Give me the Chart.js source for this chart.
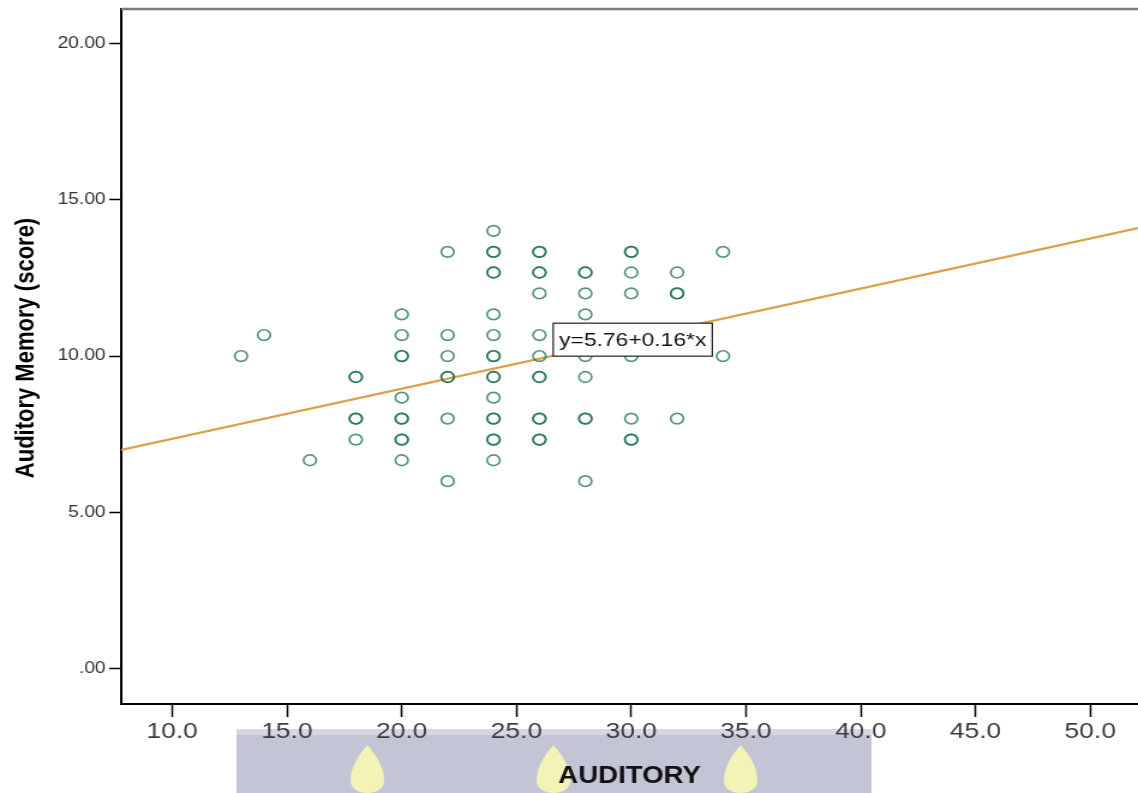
<!DOCTYPE html>
<html>
<head>
<meta charset="utf-8">
<script src="https://cdn.jsdelivr.net/npm/chart.js@4.4.1/dist/chart.umd.min.js"></script>
<style>
  html, body { margin: 0; padding: 0; background: #fff; overflow: hidden; }
  #wrap { width: 1138px; height: 793px; position: relative; overflow: hidden; }
  /* the source picture is stretched sideways, so draw narrow and widen */
  #chart { transform: scaleX(1.2004); transform-origin: 0 0; }
</style>
</head>
<body>
<div id="wrap"><canvas id="chart" width="948" height="793"></canvas></div>
<script>
// one entry per respondent, repeated values are plotted twice (darker rings)
const auditory = [
  13, 14, 16,
  18, 18, 18, 18, 18,
  20, 20, 20, 20, 20, 20, 20, 20, 20, 20,
  22, 22, 22, 22, 22, 22, 22,
  24, 24, 24, 24, 24, 24, 24, 24, 24, 24, 24, 24, 24, 24, 24, 24, 24,
  26, 26, 26, 26, 26, 26, 26, 26, 26, 26, 26, 26, 26,
  28, 28, 28, 28, 28, 28, 28, 28, 28,
  30, 30, 30, 30, 30, 30, 30, 30,
  32, 32, 32, 32,
  34, 34,
];
const memory = [
  10.00, 10.67, 6.67,
  9.33, 9.33, 8.00, 8.00, 7.33,
  11.33, 10.67, 10.00, 10.00, 8.67, 8.00, 8.00, 7.33, 7.33, 6.67,
  13.33, 10.67, 10.00, 9.33, 9.33, 8.00, 6.00,
  14.00, 13.33, 13.33, 12.67, 12.67, 11.33, 10.67, 10.00, 10.00, 9.33, 9.33, 8.67, 8.00, 8.00, 7.33, 7.33, 6.67,
  13.33, 13.33, 12.67, 12.67, 12.00, 10.67, 10.00, 9.33, 9.33, 8.00, 8.00, 7.33, 7.33,
  12.67, 12.67, 12.00, 11.33, 10.00, 9.33, 8.00, 8.00, 6.00,
  13.33, 13.33, 12.67, 12.00, 10.00, 8.00, 7.33, 7.33,
  12.67, 12.00, 12.00, 8.00,
  13.33, 10.00,
];

// fit line y = 5.76 + 0.16*x, ends read at the plot edges
const fitX = [7.78, 52.08];
const fitY = [7.0, 14.09];
const fitLabel = "y=5.76+0.16*x";

const xTicks = [10, 15, 20, 25, 30, 35, 40, 45, 50];
const xTickLabels = ["10.0", "15.0", "20.0", "25.0", "30.0", "35.0", "40.0", "45.0", "50.0"];
const yTicks = [0, 5, 10, 15, 20];
const yTickLabels = [".00", "5.00", "10.00", "15.00", "20.00"];

const FONT = "'Liberation Sans', Arial, sans-serif";

const watermark = {
  id: "watermark",
  beforeDraw(chart) {
    const { ctx } = chart;
    ctx.save();
    ctx.fillStyle = "#c4c4d7";
    ctx.fillRect(197, 729, 529, 64);
    ctx.fillStyle = "#d6d6e4";
    ctx.fillRect(197, 729, 529, 6);
    ctx.fillStyle = "#f3f3b6";
    [306, 461, 617].forEach((cx) => {
      ctx.beginPath();
      ctx.moveTo(cx, 745);
      ctx.bezierCurveTo(cx + 7, 755, cx + 14, 766, cx + 14, 781);
      ctx.bezierCurveTo(cx + 14, 797, cx - 14, 797, cx - 14, 781);
      ctx.bezierCurveTo(cx - 14, 766, cx - 7, 755, cx, 745);
      ctx.fill();
    });
    ctx.restore();
  },
};

const frame = {
  id: "frame",
  afterDraw(chart) {
    const { ctx, chartArea } = chart;
    ctx.save();
    ctx.strokeStyle = "#7a7a7a";
    ctx.lineWidth = 2.5;
    ctx.beginPath();
    ctx.moveTo(chartArea.left, chartArea.top);
    ctx.lineTo(chartArea.right, chartArea.top);
    ctx.stroke();

    // y axis title
    ctx.fillStyle = "#000";
    ctx.font = `bold 22px ${FONT}`;
    ctx.textAlign = "center";
    ctx.textBaseline = "middle";
    ctx.translate(21.5, 348);
    ctx.rotate(-Math.PI / 2);
    ctx.fillText("Auditory Memory (score)", 0, 0);
    ctx.restore();
  },
};

const equationBox = {
  id: "equationBox",
  afterDatasetsDraw(chart) {
    const { ctx, scales } = chart;
    const left = scales.x.getPixelForValue(26.6);
    const top = scales.y.getPixelForValue(11.05);
    ctx.save();
    ctx.font = `19px ${FONT}`;
    const w = ctx.measureText(fitLabel).width + 10;
    const h = 33;
    ctx.fillStyle = "#fff";
    ctx.fillRect(left, top, w, h);
    ctx.strokeStyle = "#222";
    ctx.lineWidth = 1.2;
    ctx.strokeRect(left, top, w, h);
    ctx.fillStyle = "#111";
    ctx.textBaseline = "middle";
    ctx.fillText(fitLabel, left + 5, top + h / 2 + 1);
    ctx.restore();
  },
};

new Chart(document.querySelector("#chart"), {
  type: "scatter",
  data: {
    datasets: [
      {
        type: "line",
        data: fitX.map((x, i) => ({ x, y: fitY[i] })),
        borderColor: "#de9f45",
        borderWidth: 2.3,
        pointRadius: 0,
        fill: false,
        order: 2,
      },
      {
        data: auditory.map((x, i) => ({ x, y: memory[i] })),
        pointRadius: 5.3,
        pointBorderWidth: 1.7,
        borderColor: "rgba(30, 112, 80, 0.75)",
        backgroundColor: "rgba(0, 0, 0, 0)",
        order: 1,
      },
    ],
  },
  options: {
    responsive: false,
    animation: false,
    layout: { autoPadding: false, padding: { top: 9, right: 0, left: 0, bottom: 0 } },
    plugins: { legend: { display: false }, tooltip: { enabled: false } },
    scales: {
      x: {
        type: "linear",
        min: 7.78,
        max: 52.08,
        afterBuildTicks: (scale) => { scale.ticks = xTicks.map((value) => ({ value })); },
        afterFit: (scale) => {
          scale.height = 89;
          scale.paddingLeft = 0;
          scale.paddingRight = 0;
        },
        ticks: {
          callback: (value, index) => xTickLabels[index],
          font: { family: FONT, size: 22 },
          color: "#3c3c3c",
          padding: 2,
          maxRotation: 0,
          autoSkip: false,
        },
        grid: { drawOnChartArea: false, drawTicks: true, tickLength: 13, tickColor: "#000", tickWidth: 1.5 },
        border: { display: true, color: "#000", width: 2 },
        title: {
          display: true,
          text: "AUDITORY",
          font: { family: FONT, size: 23, weight: "bold" },
          color: "#111",
          padding: { top: 0, bottom: 3 },
        },
      },
      y: {
        type: "linear",
        min: -1.12,
        max: 21.09,
        afterBuildTicks: (scale) => { scale.ticks = yTicks.map((value) => ({ value })); },
        afterFit: (scale) => {
          scale.width = 101;
          scale.paddingTop = 0;
          scale.paddingBottom = 0;
        },
        ticks: {
          callback: (value, index) => yTickLabels[index],
          font: { family: FONT, size: 16 },
          color: "#333",
          padding: 3,
        },
        grid: { drawOnChartArea: false, drawTicks: true, tickLength: 10, tickColor: "#000", tickWidth: 1.5 },
        border: { display: true, color: "#000", width: 2 },
      },
    },
  },
  plugins: [watermark, frame, equationBox],
});
</script>
</body>
</html>
